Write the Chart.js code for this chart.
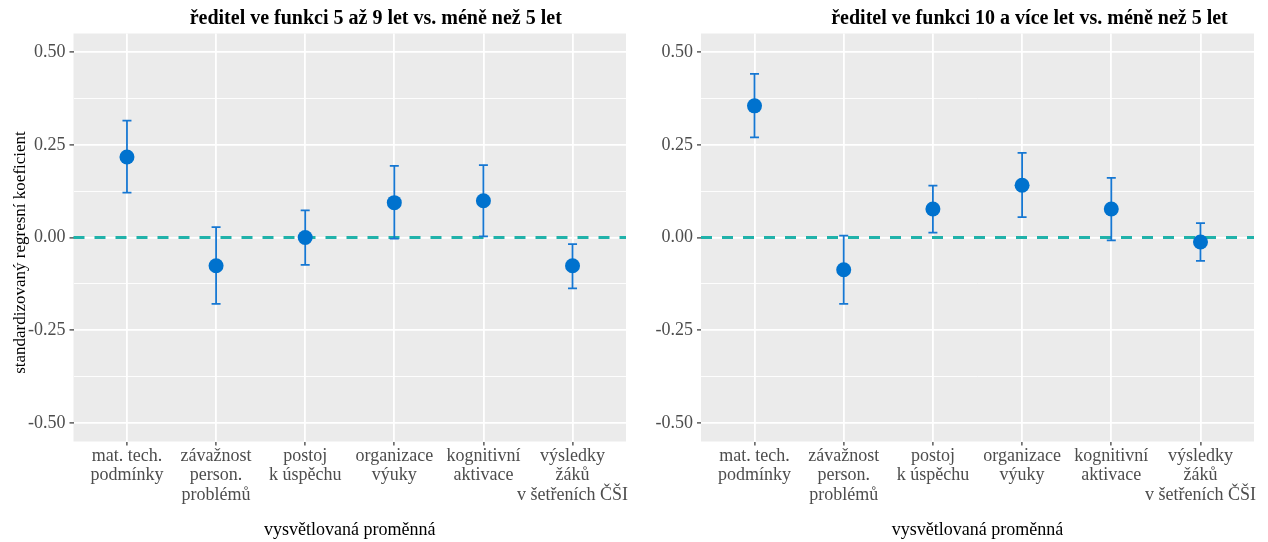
<!DOCTYPE html>
<html lang="cs">
<head>
<meta charset="UTF-8">
<title>Standardizované regresní koeficienty</title>
<script src="https://cdn.jsdelivr.net/npm/chart.js"></script>
<style>
  html, body { margin: 0; padding: 0; background: #fff; }
  .panel { position: absolute; top: 0; width: 634px; height: 542px; }
  #left { left: 0; }
  #right { left: 634px; }
</style>
</head>
<body>
<div class="panel" id="left"><canvas id="chartLeft"></canvas></div>
<div class="panel" id="right"><canvas id="chartRight"></canvas></div>
<script>
// explained variables, one array of lines per label
const categories = [
  ["mat. tech.", "podmínky"],
  ["závažnost", "person.", "problémů"],
  ["postoj", "k úspěchu"],
  ["organizace", "výuky"],
  ["kognitivní", "aktivace"],
  ["výsledky", "žáků", "v šetřeních ČŠI"]
];

const titleLeft = "ředitel ve funkci 5 až 9 let vs. méně než 5 let";
const titleRight = "ředitel ve funkci 10 a více let vs. méně než 5 let";
const yTitle = "standardizovaný regresní koeficient";
const xTitle = "vysvětlovaná proměnná";

// 5-9 let vs. méně než 5 let
const estLeft   = [0.217, -0.076, 0.000, 0.094, 0.099, -0.076];
const lowerLeft = [0.121, -0.179, -0.074, -0.003, 0.003, -0.137];
const upperLeft = [0.315, 0.028, 0.073, 0.193, 0.195, -0.018];

// 10 a více let vs. méně než 5 let
const estRight   = [0.355, -0.087, 0.077, 0.141, 0.077, -0.012];
const lowerRight = [0.270, -0.179, 0.013, 0.055, -0.008, -0.063];
const upperRight = [0.441, 0.005, 0.140, 0.228, 0.161, 0.039];

const yTicks = [-0.5, -0.375, -0.25, -0.125, 0, 0.125, 0.25, 0.375, 0.5];
const yMajor = [-0.5, -0.25, 0, 0.25, 0.5];

const serif = "'Liberation Serif', 'Times New Roman', serif";

// grey panel, titles, dashed zero line and error bars (under the points)
const panelPlugin = {
  id: 'panel',
  beforeDraw(chart, args, opts) {
    const { ctx, chartArea: a } = chart;
    ctx.save();
    ctx.fillStyle = '#EBEBEB';
    ctx.fillRect(a.left, a.top, a.right - a.left, a.bottom - a.top);
    ctx.fillStyle = '#000';
    ctx.textAlign = 'center';
    ctx.textBaseline = 'middle';
    ctx.font = 'bold 20px ' + serif;
    ctx.fillText(opts.title, (a.left + a.right) / 2 + opts.shift, 19);
    if (opts.yTitle) {
      ctx.font = '17px ' + serif;
      ctx.translate(21, (a.top + a.bottom) / 2 + 15);
      ctx.rotate(-Math.PI / 2);
      ctx.fillText(opts.yTitle, 0, 0);
    }
    ctx.restore();
  },
  beforeDatasetsDraw(chart) {
    const { ctx, chartArea: a, scales: { x, y } } = chart;
    const ds = chart.data.datasets[0];
    ctx.save();
    ctx.strokeStyle = '#20B2AA';
    ctx.lineWidth = 2.8;
    ctx.setLineDash([11, 10]);
    const y0 = y.getPixelForValue(0);
    ctx.beginPath();
    ctx.moveTo(a.left, y0);
    ctx.lineTo(a.right, y0);
    ctx.stroke();

    ctx.setLineDash([]);
    ctx.strokeStyle = '#1677D2';
    ctx.lineWidth = 1.8;
    ds.lower.forEach((lo, i) => {
      const px = x.getPixelForValue(i);
      const pLo = y.getPixelForValue(lo);
      const pHi = y.getPixelForValue(ds.upper[i]);
      ctx.beginPath();
      ctx.moveTo(px, pLo); ctx.lineTo(px, pHi);
      ctx.moveTo(px - 4.5, pLo); ctx.lineTo(px + 4.5, pLo);
      ctx.moveTo(px - 4.5, pHi); ctx.lineTo(px + 4.5, pHi);
      ctx.stroke();
    });
    ctx.restore();
  }
};

function isMajor(c) {
  return c.tick && yMajor.includes(c.tick.value);
}

function makeChart(id, title, titleShift, est, lower, upper, showYTitle, axisWidth, padRight) {
  return new Chart(document.getElementById(id), {
    type: 'scatter',
    data: {
      datasets: [{
        data: est.map((v, i) => ({ x: i, y: v })),
        lower: lower,
        upper: upper,
        backgroundColor: '#0072CE',
        pointBorderWidth: 0,
        pointRadius: 7.5,
        pointHoverRadius: 7.5
      }]
    },
    options: {
      responsive: true,
      maintainAspectRatio: false,
      animation: false,
      events: [],
      layout: { padding: { left: 0, right: padRight, top: 33.5, bottom: 0 } },
      plugins: {
        legend: { display: false },
        tooltip: { enabled: false },
        panel: { title: title, shift: titleShift, yTitle: showYTitle ? yTitle : '' }
      },
      scales: {
        x: {
          type: 'linear',
          min: -0.6,
          max: 5.6,
          afterBuildTicks: s => { s.ticks = categories.map((c, i) => ({ value: i })); },
          afterFit: s => { s.height = 100.5; },
          grid: { color: '#FFFFFF', lineWidth: 1.8, tickLength: 4, tickColor: '#333333', tickWidth: 1.2 },
          border: { display: false },
          ticks: {
            autoSkip: false,
            maxRotation: 0,
            padding: 1,
            color: '#4D4D4D',
            font: { family: serif, size: 18, lineHeight: 1.08 },
            callback: v => categories[v]
          },
          title: {
            display: true,
            text: xTitle,
            color: '#000',
            font: { family: serif, size: 18 },
            padding: { top: 0, bottom: 1 }
          }
        },
        y: {
          min: -0.55,
          max: 0.55,
          afterBuildTicks: s => { s.ticks = yTicks.map(v => ({ value: v })); },
          afterFit: s => { s.width = axisWidth; },
          grid: {
            color: '#FFFFFF',
            lineWidth: c => isMajor(c) ? 1.8 : 0.9,
            tickColor: c => isMajor(c) ? '#333333' : 'rgba(0,0,0,0)',
            tickLength: 4,
            tickWidth: 1.2
          },
          border: { display: false },
          ticks: {
            padding: 4,
            color: '#4D4D4D',
            font: { family: serif, size: 18 },
            callback: v => yMajor.includes(v) ? v.toFixed(2) : ''
          }
        }
      }
    },
    plugins: [panelPlugin]
  });
}

makeChart('chartLeft', titleLeft, 26, estLeft, lowerLeft, upperLeft, true, 73.5, 8);
makeChart('chartRight', titleRight, 52, estRight, lowerRight, upperRight, false, 67, 14);
</script>
</body>
</html>
